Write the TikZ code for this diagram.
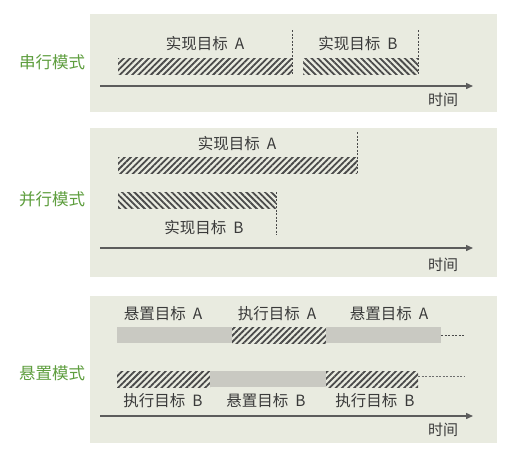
\documentclass[tikz,border=0pt]{standalone}
\usepackage{fontspec}
\newfontfamily\cjk{Noto Sans CJK SC}
\newfontfamily\cjkl{Noto Sans CJK SC Light}
\usetikzlibrary{patterns.meta,arrows.meta}
\definecolor{panelbg}{HTML}{E9EBE0}
\definecolor{modegreen}{HTML}{5E9E3E}
\definecolor{bargray}{HTML}{C9C9C2}
\definecolor{hatchc}{HTML}{4A4A4A}
\definecolor{txt}{HTML}{3A3A3A}
\tikzset{
  panel/.style={fill=panelbg, draw=none},
  hatchf/.style={pattern={Lines[angle=45,distance=4.4pt,line width=1.8pt]}, pattern color=hatchc},
  hatchb/.style={pattern={Lines[angle=-45,distance=4.4pt,line width=1.8pt]}, pattern color=hatchc},
  graybar/.style={fill=bargray, draw=none},
  lbl/.style={font=\cjk\fontsize{15.5}{17}\selectfont, text=txt, inner sep=0pt},
  modelbl/.style={font=\cjk\fontsize{16.5}{18}\selectfont, text=modegreen, inner sep=0pt},
  timelbl/.style={font=\cjk\fontsize{15}{17}\selectfont, text=txt, inner sep=0pt},
  axis/.style={draw=hatchc!90, line width=1.4pt, -{Triangle[length=7pt,width=6pt]}},
  guide/.style={draw=hatchc, line width=0.8pt, dash pattern=on 2pt off 1.5pt},
}
\newcommand{\gap}{\hspace{0.45em}}
\begin{document}
\begin{tikzpicture}[x=1pt,y=-1pt]
\useasboundingbox (0,0) rectangle (510,456);
\fill[white] (0,0) rectangle (510,456);
% panels
\fill[panel] (90,14) rectangle (497,112);
\fill[panel] (90,128) rectangle (497,277);
\fill[panel] (90,296) rectangle (497,443);

% ===== Serial =====
\node[modelbl] (m1) at (52,62) {串行模式};
\fill[hatchf] (118,58) rectangle (292,74);
\fill[hatchb] (303,58) rectangle (418,74);
\coordinate (s1t) at (292,30); \coordinate (s1b) at (292,74);
\coordinate (s2t) at (418,30); \coordinate (s2b) at (418,74);
\draw[guide] (s1t) -- (s1b);
\draw[guide] (s2t) -- (s2b);
\node[lbl] (sa) at (205,44) {实现目标\gap A};
\node[lbl] (sb) at (358,44) {实现目标\gap B};
\coordinate (a1s) at (100,86); \coordinate (a1e) at (473,86);
\draw[axis] (a1s) -- (a1e);
\node[timelbl] (t1) at (443,100) {时间};

% ===== Parallel =====
\node[modelbl] (m2) at (52,199) {并行模式};
\fill[hatchf] (118,157) rectangle (357,173);
\fill[hatchb] (118,192) rectangle (276,208);
\coordinate (p1t) at (357,132); \coordinate (p1b) at (357,173);
\coordinate (p2t) at (276,192); \coordinate (p2b) at (276,235);
\draw[guide] (p1t) -- (p1b);
\draw[guide] (p2t) -- (p2b);
\node[lbl] (pa) at (237,144) {实现目标\gap A};
\node[lbl] (pb) at (204,228) {实现目标\gap B};
\coordinate (a2s) at (100,248); \coordinate (a2e) at (473,248);
\draw[axis] (a2s) -- (a2e);
\node[timelbl] (t2) at (443,265) {时间};

% ===== Suspend =====
\node[modelbl] (m3) at (52,373) {悬置模式};
\fill[graybar] (117,327) rectangle (232,343);
\fill[hatchf] (232,327) rectangle (326,343);
\fill[graybar] (326,327) rectangle (441,343);
\fill[hatchf] (117,371) rectangle (210,387);
\fill[graybar] (210,371) rectangle (326,387);
\fill[hatchf] (326,371) rectangle (418,387);
\coordinate (d1s) at (441,335); \coordinate (d1e) at (464,335);
\coordinate (d2s) at (418,376); \coordinate (d2e) at (464,376);
\draw[guide] (d1s) -- (d1e);
\draw[guide, draw=hatchc!80] (d2s) -- (d2e);
\node[lbl] (ua1) at (163,314) {悬置目标\gap A};
\node[lbl] (ea) at (277,314) {执行目标\gap A};
\node[lbl] (ua2) at (389,314) {悬置目标\gap A};
\node[lbl] (eb1) at (163,401) {执行目标\gap B};
\node[lbl] (ub) at (266,401) {悬置目标\gap B};
\node[lbl] (eb2) at (375,401) {执行目标\gap B};
\coordinate (a3s) at (100,416); \coordinate (a3e) at (473,416);
\draw[axis] (a3s) -- (a3e);
\node[timelbl] (t3) at (443,430) {时间};
\end{tikzpicture}
\end{document}
